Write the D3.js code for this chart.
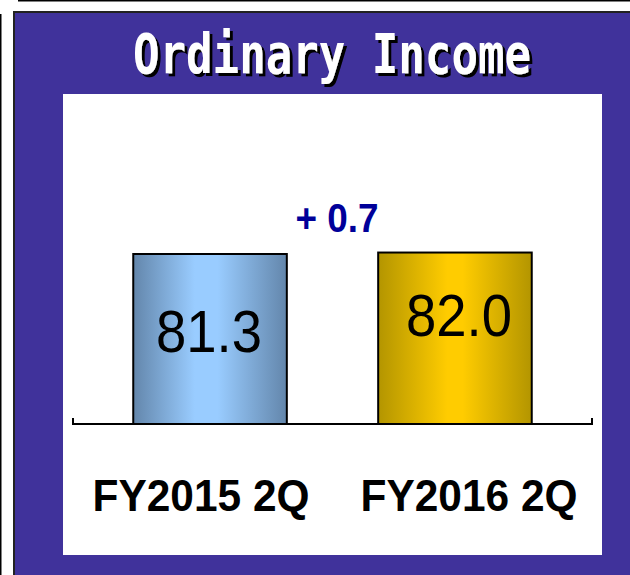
<!DOCTYPE html>
<html>
<head>
<meta charset="utf-8">
<script src="https://cdn.jsdelivr.net/npm/d3@7"></script>
<style>
  html, body { margin: 0; padding: 0; background: #fff; }
  svg { display: block; }
</style>
</head>
<body>
<svg id="chart" width="630" height="575"></svg>
<script>
// ---- data ----
const title = "Ordinary Income";
const categories = ["FY2015 2Q", "FY2016 2Q"];
const values = [81.3, 82.0];
const valueLabels = ["81.3", "82.0"];
const diffLabel = "+ 0.7";

// ---- drawing ----
const svg = d3.select("#chart");
const defs = svg.append("defs");

function hGrad(id, stops) {
  const g = defs.append("linearGradient").attr("id", id)
    .attr("x1", "0%").attr("x2", "100%").attr("y1", "0%").attr("y2", "0%");
  stops.forEach(s => g.append("stop").attr("offset", s[0]).attr("stop-color", s[1]));
}
hGrad("gBlue", [["0%", "#6386ab"], ["40%", "#99ccff"], ["55%", "#99ccff"], ["100%", "#6386ab"]]);
hGrad("gGold", [["0%", "#b39500"], ["45%", "#ffcc00"], ["55%", "#ffcc00"], ["100%", "#b39500"]]);
const fills = ["url(#gBlue)", "url(#gGold)"];

// hard drop shadow for the title
const f = defs.append("filter").attr("id", "shadow")
  .attr("x", "-10%").attr("y", "-20%").attr("width", "130%").attr("height", "150%");
f.append("feOffset").attr("in", "SourceAlpha").attr("dx", 3).attr("dy", 3).attr("result", "off");
f.append("feFlood").attr("flood-color", "#000").attr("result", "blk");
f.append("feComposite").attr("in", "blk").attr("in2", "off").attr("operator", "in").attr("result", "sh");
const m = f.append("feMerge");
m.append("feMergeNode").attr("in", "sh");
m.append("feMergeNode").attr("in", "SourceGraphic");

// frame lines
svg.append("line").attr("x1", 18).attr("x2", 630).attr("y1", 0.75).attr("y2", 0.75)
  .attr("stroke", "#000").attr("stroke-width", 1.5);
svg.append("line").attr("x1", 0.75).attr("x2", 0.75).attr("y1", 14).attr("y2", 575)
  .attr("stroke", "#000").attr("stroke-width", 1.5);

// purple panel
svg.append("rect").attr("x", 14).attr("y", 12).attr("width", 640).attr("height", 600)
  .attr("fill", "#40329b").attr("stroke", "#222").attr("stroke-width", 2);

// white plot area
svg.append("rect").attr("x", 63).attr("y", 94).attr("width", 539).attr("height", 461)
  .attr("fill", "#fff");

// title with shadow
svg.append("text")
  .attr("x", 133).attr("y", 73)
  .attr("textLength", 398).attr("lengthAdjust", "spacingAndGlyphs")
  .attr("font-family", "'DejaVu Sans Mono', monospace")
  .attr("font-weight", "bold")
  .attr("font-size", 55)
  .attr("fill", "#fff")
  .attr("filter", "url(#shadow)")
  .text(title);

// scales
const axisY = 424;
const x = d3.scaleBand().domain(categories).range([73, 592])
  .paddingInner(0.373).paddingOuter(0.246);
const y = d3.scaleLinear().domain([0, 100]).range([axisY, axisY - 209.1]);
const xLabel = d3.scalePoint().domain(categories).range([201, 469]);

// bars
svg.selectAll("rect.bar").data(values).join("rect")
  .attr("class", "bar")
  .attr("x", (d, i) => x(categories[i]))
  .attr("y", d => y(d))
  .attr("width", x.bandwidth())
  .attr("height", d => y(0) - y(d))
  .attr("fill", (d, i) => fills[i])
  .attr("stroke", "#000").attr("stroke-width", 2);

// axis line with end ticks
svg.append("path")
  .attr("d", `M${x.range()[0]},${axisY - 6}V${axisY}H${x.range()[1]}V${axisY - 6}`)
  .attr("fill", "none").attr("stroke", "#000").attr("stroke-width", 2);

// value labels
const valueDy = [98, 83];
const valueDx = [-1, 4];
svg.selectAll("text.val").data(values).join("text")
  .attr("class", "val")
  .attr("x", (d, i) => x(categories[i]) + x.bandwidth() / 2 + valueDx[i])
  .attr("y", (d, i) => y(d) + valueDy[i])
  .attr("text-anchor", "middle")
  .attr("font-family", "'Liberation Sans', Arial, sans-serif")
  .attr("font-size", 59)
  .attr("textLength", 106).attr("lengthAdjust", "spacingAndGlyphs")
  .attr("fill", "#000")
  .text((d, i) => valueLabels[i]);

// difference label
svg.append("text")
  .attr("x", 337).attr("y", y(values[1]) - 21)
  .attr("text-anchor", "middle")
  .attr("font-family", "'Liberation Sans', Arial, sans-serif")
  .attr("font-weight", "bold")
  .attr("font-size", 40)
  .attr("textLength", 83).attr("lengthAdjust", "spacingAndGlyphs")
  .attr("fill", "#000099")
  .text(diffLabel);

// category labels
svg.selectAll("text.cat").data(categories).join("text")
  .attr("class", "cat")
  .attr("x", d => xLabel(d))
  .attr("y", 511)
  .attr("text-anchor", "middle")
  .attr("font-family", "'Liberation Sans', Arial, sans-serif")
  .attr("font-weight", "bold")
  .attr("font-size", 45)
  .attr("textLength", 217).attr("lengthAdjust", "spacingAndGlyphs")
  .attr("fill", "#000")
  .text(d => d);
</script>
</body>
</html>
